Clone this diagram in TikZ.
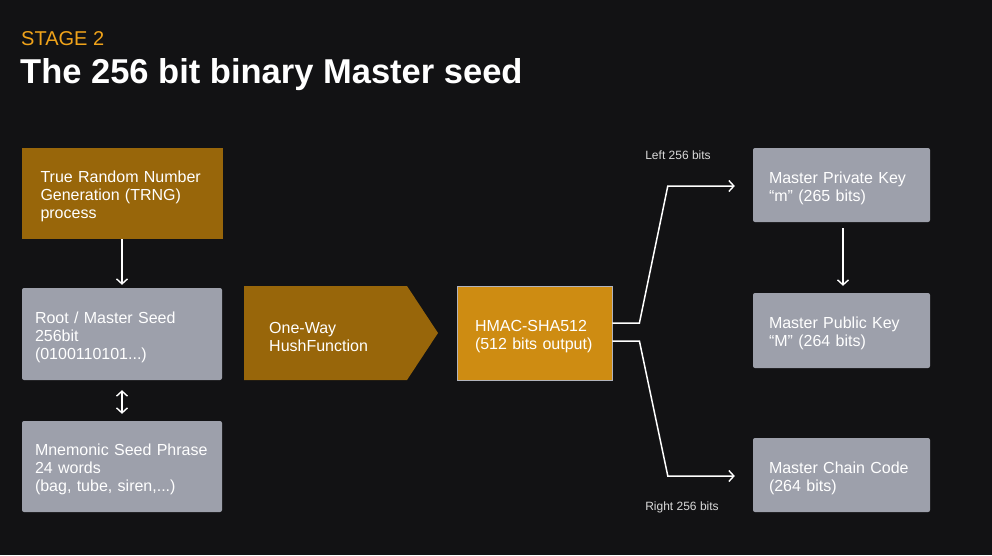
\documentclass[tikz,border=0pt]{standalone}
\usepackage{fontspec}
\setmainfont{Liberation Sans}
\usetikzlibrary{arrows.meta}
\definecolor{bg}{HTML}{121214}
\definecolor{brownbox}{HTML}{98660A}
\definecolor{graybox}{HTML}{9DA0AB}
\definecolor{hmacbox}{HTML}{CE8C12}
\definecolor{stageor}{HTML}{F0A31A}
\definecolor{lbl}{HTML}{DADADA}
\tikzset{
  boxtext/.style={text=white, font=\fontsize{16}{18}\selectfont, align=left, inner ysep=0pt, anchor=center,
    execute at begin node={\rule{0pt}{17.5pt}}},
  brownstyle/.style={boxtext, fill=brownbox},
  graystyle/.style={boxtext, fill=graybox, rounded corners=2pt},
  hmacstyle/.style={boxtext, fill=hmacbox, draw=graybox!80, line width=0.8pt},
  conn/.style={draw=white, line width=1.5pt, -{Straight Barb[length=5pt,width=11pt,line width=1.4pt]}},
  dconn/.style={draw=white, line width=1.5pt, {Straight Barb[length=5pt,width=11pt,line width=1.4pt]}-{Straight Barb[length=5pt,width=11pt,line width=1.4pt]}},
  small/.style={text=lbl, font=\fontsize{12}{14}\selectfont}
}
\begin{document}
\begin{tikzpicture}[x=1pt,y=-1pt]
\fill[bg] (0,0) rectangle (992,555);
\useasboundingbox (0,0) rectangle (992,555);

\node[anchor=base west, text=stageor, font=\fontsize{20}{24}\selectfont, inner sep=0pt] (stage) at (21,45) {STAGE 2};
\node[anchor=base west, text=white, font=\fontsize{34.5}{40}\selectfont\bfseries, inner sep=0pt] (title) at (20,83) {The 256 bit binary Master seed};

% left column
\node[brownstyle, text width=163pt, inner xsep=19pt, minimum height=91pt] (trng) at (122,193.5)
  {True Random Number\\Generation (TRNG)\\process};
\node[graystyle, text width=174pt, inner xsep=13pt, minimum height=92pt] (root) at (122,334)
  {Root / Master Seed\\256bit\\(0100110101...)};
\node[graystyle, text width=174pt, inner xsep=13pt, minimum height=91pt] (mnem) at (122,466.5)
  {Mnemonic Seed Phrase\\24 words\\(bag, tube, siren,...)};

% one-way hash pentagon
\fill[brownbox] (244,286) -- (407,286) -- (438,333) -- (407,380) -- (244,380) -- cycle;
\node[text=white, font=\fontsize{16}{18}\selectfont, align=left, anchor=west, inner sep=0pt] (hash) at (269,337)
  {One-Way\\HushFunction};

% HMAC
\node[hmacstyle, text width=119pt, inner xsep=18pt, minimum height=94pt] (hmac) at (534.5,333)
  {HMAC-SHA512\\(512 bits output)};

% right column
\node[graystyle, text width=145pt, inner xsep=16pt, minimum height=74pt] (priv) at (841.5,185)
  {Master Private Key\\“m” (265 bits)};
\node[graystyle, text width=145pt, inner xsep=16pt, minimum height=75pt] (pub) at (841.5,330.5)
  {Master Public Key\\“M” (264 bits)};
\node[graystyle, text width=145pt, inner xsep=16pt, minimum height=74pt] (chain) at (841.5,475)
  {Master Chain Code\\(264 bits)};

% labels
\node[small] (leftlbl) at (678,155) {Left 256 bits};
\node[small] (rightlbl) at (682,507) {Right 256 bits};

% connectors
\draw[conn, shorten >=3pt] (trng.south) -- (root.north);
\draw[dconn, shorten <=10pt, shorten >=7pt] (root.south) -- (mnem.north);
\draw[conn, shorten <=6pt, shorten >=7pt] ([xshift=1.5pt]priv.south) -- ([xshift=1.5pt]pub.north);
\draw[conn] ([yshift=10pt]hmac.east) -- ++(27,0) -- ([xshift=-85pt,yshift=-1pt]priv.west) -- ([xshift=-18pt,yshift=-1pt]priv.west);
\draw[conn] ([yshift=-8pt]hmac.east) -- ++(27,0) -- ([xshift=-85pt,yshift=-1pt]chain.west) -- ([xshift=-18pt,yshift=-1pt]chain.west);
\end{tikzpicture}
\end{document}
